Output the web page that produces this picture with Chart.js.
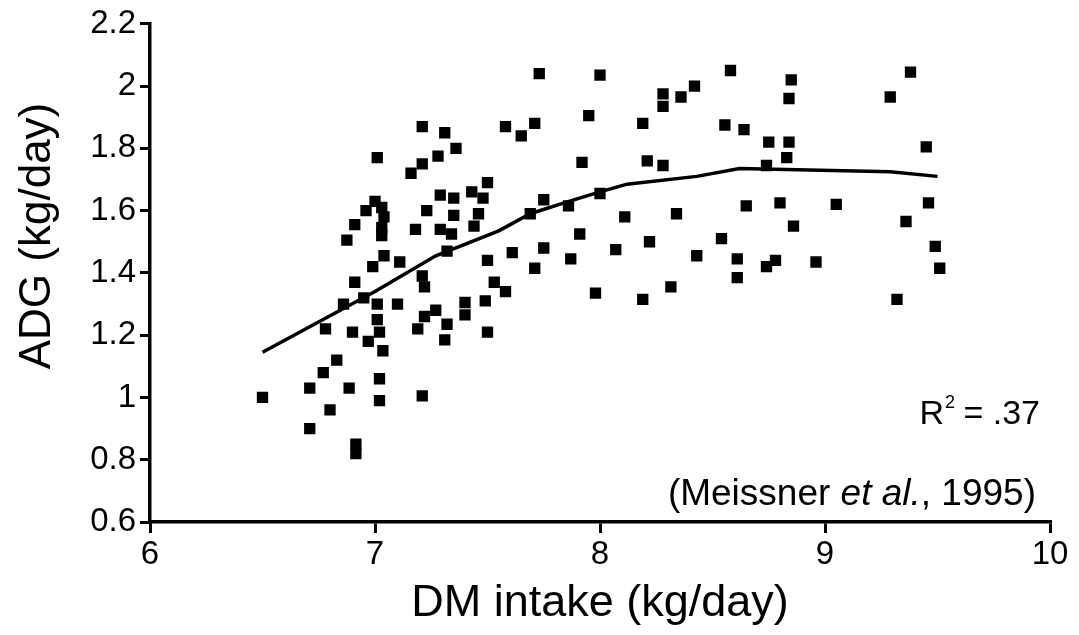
<!DOCTYPE html>
<html>
<head>
<meta charset="utf-8">
<script src="https://cdn.jsdelivr.net/npm/chart.js@4.4.1/dist/chart.umd.min.js"></script>
<style>
  html, body { margin: 0; padding: 0; background: #fff; }
  #wrap { width: 1079px; height: 635px; }
</style>
</head>
<body>
<div id="wrap"><canvas id="adgChart" width="1079" height="635"></canvas></div>
<script>
// observed steers: DM intake (kg/day) vs ADG (kg/day)
const intakeX = [
  6.50, 6.71, 6.71, 6.77, 6.78, 6.80, 6.83, 6.86, 6.885, 6.90, 6.91, 6.915, 6.915, 6.875, 6.91, 6.96, 6.95, 6.97, 6.99, 7.00, 7.01,
  7.21, 7.31, 7.36, 7.28, 7.21, 7.16, 7.58, 7.50, 7.43, 7.48, 7.29, 7.35, 7.03, 7.23, 7.46, 7.04, 7.35, 7.03, 7.03, 7.18, 7.29,
  7.34, 7.44, 7.32, 7.04, 7.11, 7.50, 7.21, 7.22, 7.53, 7.58, 7.01, 7.10, 7.40, 7.49, 7.27, 7.22, 7.40, 7.01, 7.02, 7.19, 7.32,
  7.035, 7.31, 7.50, 7.02, 7.02, 7.21,
  7.73, 8.00, 8.42, 8.28, 8.36, 8.28, 7.95, 7.65, 7.71, 8.19, 7.92, 8.21, 8.28, 7.75, 7.86, 7.69, 8.00, 8.11, 8.34, 7.91, 7.61,
  7.75, 7.71, 7.87, 8.07, 8.22, 8.43, 7.98, 8.19, 8.315,
  8.58, 8.85, 8.84, 9.38, 9.29, 8.555, 8.64, 8.75, 8.84, 8.83, 8.74, 9.45, 8.65, 8.80, 9.05, 9.46, 8.86, 9.36, 8.54, 8.61, 8.78,
  8.74, 8.96, 9.49, 9.51, 8.61, 9.32
];
const gainY = [
  1.00, 0.90, 1.03, 1.08, 1.22, 0.96, 1.12, 1.30, 1.03, 1.21, 1.37, 0.85, 0.82, 1.505, 1.555, 1.60, 1.32, 1.18, 1.42, 1.63, 1.77,
  1.87, 1.85, 1.80, 1.775, 1.75, 1.72, 1.87, 1.69, 1.66, 1.64, 1.65, 1.64, 1.61, 1.60, 1.59, 1.58, 1.585, 1.545, 1.52, 1.54, 1.54,
  1.525, 1.55, 1.47, 1.455, 1.435, 1.44, 1.39, 1.355, 1.37, 1.34, 1.30, 1.30, 1.305, 1.31, 1.28, 1.26, 1.265, 1.25, 1.21, 1.22, 1.235,
  1.15, 1.185, 1.21, 1.06, 0.99, 1.005,
  2.04, 2.035, 2.00, 1.975, 1.965, 1.935, 1.905, 1.84, 1.88, 1.88, 1.755, 1.76, 1.745, 1.635, 1.615, 1.59, 1.655, 1.58, 1.59, 1.525, 1.465,
  1.48, 1.415, 1.445, 1.475, 1.50, 1.455, 1.335, 1.315, 1.355,
  2.05, 2.02, 1.96, 2.045, 1.965, 1.875, 1.86, 1.82, 1.82, 1.77, 1.745, 1.805, 1.615, 1.625, 1.62, 1.625, 1.55, 1.565, 1.51, 1.445, 1.44,
  1.42, 1.435, 1.485, 1.415, 1.385, 1.315
];

// fitted response curve
const fitX = [6.50, 7.00, 7.27, 7.55, 7.69, 7.84, 8.00, 8.12, 8.43, 8.62, 9.29, 9.50];
const fitY = [1.145, 1.34, 1.455, 1.535, 1.59, 1.625, 1.66, 1.685, 1.71, 1.735, 1.725, 1.71];

const xTicks = [6, 7, 8, 9, 10];
const yTicks = [0.6, 0.8, 1, 1.2, 1.4, 1.6, 1.8, 2, 2.2];
const yTickLabels = ['0.6', '0.8', '1', '1.2', '1.4', '1.6', '1.8', '2', '2.2'];

const FONT = "'Liberation Sans', Arial, sans-serif";

const notesPlugin = {
  id: 'notes',
  afterDraw(chart) {
    const ctx = chart.ctx;
    const area = chart.chartArea;
    ctx.save();
    ctx.fillStyle = '#000';
    ctx.textBaseline = 'alphabetic';

    // y axis title, sits a bit above the middle
    ctx.save();
    ctx.translate(50, 236);
    ctx.rotate(-Math.PI / 2);
    ctx.textAlign = 'center';
    ctx.font = '44px ' + FONT;
    ctx.fillText('ADG (kg/day)', 0, 0);
    ctx.restore();

    // R² = .37
    const big = '34px ' + FONT, small = '18px ' + FONT;
    const rest = ' = .37';
    ctx.font = big;
    const restW = ctx.measureText(rest).width;
    const rW = ctx.measureText('R').width;
    ctx.font = small;
    const supW = ctx.measureText('2').width;
    let x = area.right - 10 - restW - supW - rW;
    const y1 = area.top + 400;
    ctx.font = big;
    ctx.fillText('R', x, y1);
    ctx.font = small;
    ctx.fillText('2', x + rW + 1, y1 - 16);
    ctx.font = big;
    ctx.fillText(rest, x + rW + supW, y1);

    // (Meissner et al., 1995)
    const parts = [['(Meissner ', ''], ['et al.', 'italic '], [', 1995)', '']];
    let total = 0;
    parts.forEach(p => { ctx.font = p[1] + '37px ' + FONT; total += ctx.measureText(p[0]).width; });
    x = area.right - 14 - total;
    const y2 = area.top + 481;
    parts.forEach(p => {
      ctx.font = p[1] + '37px ' + FONT;
      ctx.fillText(p[0], x, y2);
      x += ctx.measureText(p[0]).width;
    });
    ctx.restore();
  }
};

const scatterPoints = intakeX.map((v, i) => ({ x: v, y: gainY[i] }));
const fitPoints = fitX.map((v, i) => ({ x: v, y: fitY[i] }));

new Chart(document.getElementById('adgChart'), {
  type: 'scatter',
  data: {
    datasets: [
      {
        label: 'Observed',
        data: scatterPoints,
        pointStyle: 'rect',
        pointRadius: 8,
        backgroundColor: '#000',
        borderWidth: 0
      },
      {
        type: 'line',
        label: 'Fit',
        data: fitPoints,
        borderColor: '#000',
        borderWidth: 3.5,
        pointRadius: 0,
        fill: false,
        tension: 0
      }
    ]
  },
  options: {
    responsive: false,
    animation: false,
    devicePixelRatio: 1,
    layout: { padding: { top: 22, right: 29, left: 0, bottom: 0 } },
    plugins: {
      legend: { display: false },
      tooltip: { enabled: false }
    },
    scales: {
      x: {
        type: 'linear',
        min: 6,
        max: 10,
        afterBuildTicks: (scale) => { scale.ticks = xTicks.map(v => ({ value: v })); },
        afterFit: (scale) => { scale.height = 113; },
        grid: { drawOnChartArea: false, drawTicks: true, tickLength: 11, color: '#000', lineWidth: 3 },
        border: { display: true, color: '#000', width: 3.5 },
        ticks: { color: '#000', padding: 2, font: { family: FONT, size: 33 } },
        title: {
          display: true,
          text: 'DM intake (kg/day)',
          color: '#000',
          padding: { top: 0, bottom: 4 },
          font: { family: FONT, size: 45 }
        }
      },
      y: {
        type: 'linear',
        min: 0.6,
        max: 2.2,
        afterBuildTicks: (scale) => { scale.ticks = yTicks.map(v => ({ value: v })); },
        afterFit: (scale) => { scale.width = 150; },
        grid: { drawOnChartArea: false, drawTicks: true, tickLength: 10, color: '#000', lineWidth: 3 },
        border: { display: true, color: '#000', width: 3.5 },
        ticks: {
          color: '#000',
          padding: 4,
          font: { family: FONT, size: 33 },
          callback: (v) => yTickLabels[yTicks.findIndex(t => Math.abs(t - v) < 1e-6)]
        },
        title: { display: false }
      }
    }
  },
  plugins: [notesPlugin]
});
</script>
</body>
</html>
